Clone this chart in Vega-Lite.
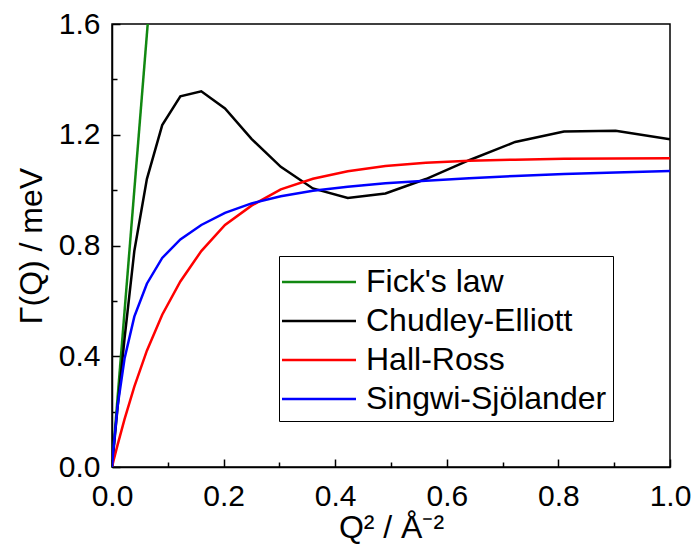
{
  "$schema": "https://vega.github.io/schema/vega-lite/v6.json",
  "width": 558,
  "height": 443,
  "autosize": {"type": "none"},
  "padding": {"left": 112, "top": 24, "right": 26, "bottom": 78},
  "background": "white",
  "config": {
    "view": {"stroke": "black", "strokeWidth": 1.5},
    "font": "Liberation Sans",
    "axis": {"grid": false, "domainColor": "black", "domainWidth": 1.5, "tickColor": "black", "tickWidth": 1.5, "labelColor": "black", "titleColor": "black", "labelFont": "Liberation Sans", "titleFont": "Liberation Sans", "titleFontWeight": "normal", "labelFlush": false, "labelOverlap": false}
  },
  "data": {
    "values": [
      {"m": "Fick's law", "x": 0, "y": 0},
      {"m": "Fick's law", "x": 0.064, "y": 1.6},
      {"m": "Chudley-Elliott", "x": 0, "y": 0},
      {"m": "Chudley-Elliott", "x": 0.0025, "y": 0.055},
      {"m": "Chudley-Elliott", "x": 0.01, "y": 0.215},
      {"m": "Chudley-Elliott", "x": 0.0225, "y": 0.465},
      {"m": "Chudley-Elliott", "x": 0.04, "y": 0.78},
      {"m": "Chudley-Elliott", "x": 0.0625, "y": 1.04},
      {"m": "Chudley-Elliott", "x": 0.09, "y": 1.235},
      {"m": "Chudley-Elliott", "x": 0.1225, "y": 1.339},
      {"m": "Chudley-Elliott", "x": 0.16, "y": 1.357},
      {"m": "Chudley-Elliott", "x": 0.2025, "y": 1.295},
      {"m": "Chudley-Elliott", "x": 0.25, "y": 1.185},
      {"m": "Chudley-Elliott", "x": 0.3025, "y": 1.084},
      {"m": "Chudley-Elliott", "x": 0.36, "y": 1.006},
      {"m": "Chudley-Elliott", "x": 0.4225, "y": 0.972},
      {"m": "Chudley-Elliott", "x": 0.49, "y": 0.988},
      {"m": "Chudley-Elliott", "x": 0.5625, "y": 1.04},
      {"m": "Chudley-Elliott", "x": 0.64, "y": 1.108},
      {"m": "Chudley-Elliott", "x": 0.7225, "y": 1.174},
      {"m": "Chudley-Elliott", "x": 0.81, "y": 1.212},
      {"m": "Chudley-Elliott", "x": 0.9025, "y": 1.214},
      {"m": "Chudley-Elliott", "x": 1.0, "y": 1.184},
      {"m": "Hall-Ross", "x": 0, "y": 0},
      {"m": "Hall-Ross", "x": 0.0025, "y": 0.021},
      {"m": "Hall-Ross", "x": 0.01, "y": 0.08},
      {"m": "Hall-Ross", "x": 0.0225, "y": 0.173},
      {"m": "Hall-Ross", "x": 0.04, "y": 0.29},
      {"m": "Hall-Ross", "x": 0.0625, "y": 0.42},
      {"m": "Hall-Ross", "x": 0.09, "y": 0.55},
      {"m": "Hall-Ross", "x": 0.1225, "y": 0.67},
      {"m": "Hall-Ross", "x": 0.16, "y": 0.78},
      {"m": "Hall-Ross", "x": 0.2025, "y": 0.874},
      {"m": "Hall-Ross", "x": 0.25, "y": 0.944},
      {"m": "Hall-Ross", "x": 0.3025, "y": 1.003},
      {"m": "Hall-Ross", "x": 0.36, "y": 1.041},
      {"m": "Hall-Ross", "x": 0.4225, "y": 1.068},
      {"m": "Hall-Ross", "x": 0.49, "y": 1.087},
      {"m": "Hall-Ross", "x": 0.5625, "y": 1.099},
      {"m": "Hall-Ross", "x": 0.64, "y": 1.106},
      {"m": "Hall-Ross", "x": 0.7225, "y": 1.11},
      {"m": "Hall-Ross", "x": 0.81, "y": 1.113},
      {"m": "Hall-Ross", "x": 0.9025, "y": 1.114},
      {"m": "Hall-Ross", "x": 1.0, "y": 1.115},
      {"m": "Singwi-Sjölander", "x": 0, "y": 0},
      {"m": "Singwi-Sjölander", "x": 0.0025, "y": 0.064},
      {"m": "Singwi-Sjölander", "x": 0.01, "y": 0.219},
      {"m": "Singwi-Sjölander", "x": 0.0225, "y": 0.392},
      {"m": "Singwi-Sjölander", "x": 0.04, "y": 0.543},
      {"m": "Singwi-Sjölander", "x": 0.0625, "y": 0.662},
      {"m": "Singwi-Sjölander", "x": 0.09, "y": 0.755},
      {"m": "Singwi-Sjölander", "x": 0.1225, "y": 0.822},
      {"m": "Singwi-Sjölander", "x": 0.16, "y": 0.874},
      {"m": "Singwi-Sjölander", "x": 0.2025, "y": 0.918},
      {"m": "Singwi-Sjölander", "x": 0.25, "y": 0.952},
      {"m": "Singwi-Sjölander", "x": 0.3025, "y": 0.978},
      {"m": "Singwi-Sjölander", "x": 0.36, "y": 0.998},
      {"m": "Singwi-Sjölander", "x": 0.4225, "y": 1.012},
      {"m": "Singwi-Sjölander", "x": 0.49, "y": 1.025},
      {"m": "Singwi-Sjölander", "x": 0.5625, "y": 1.034},
      {"m": "Singwi-Sjölander", "x": 0.64, "y": 1.043},
      {"m": "Singwi-Sjölander", "x": 0.7225, "y": 1.051},
      {"m": "Singwi-Sjölander", "x": 0.81, "y": 1.058},
      {"m": "Singwi-Sjölander", "x": 0.9025, "y": 1.064},
      {"m": "Singwi-Sjölander", "x": 1.0, "y": 1.069}
    ]
  },
  "layer": [
    {
      "mark": {"type": "line", "strokeWidth": 2.5, "clip": true},
      "encoding": {
        "x": {"field": "x", "type": "quantitative", "scale": {"domain": [0, 1], "nice": false, "zero": false},
          "axis": {"orient": "bottom", "values": [0, 0.2, 0.4, 0.6, 0.8, 1.0], "format": ".1f", "tickSize": -8, "labelFontSize": 30, "labelPadding": 22, "title": "Q² / Å⁻²", "titleFontSize": 32, "titlePadding": 1}},
        "y": {"field": "y", "type": "quantitative", "scale": {"domain": [0, 1.6], "nice": false, "zero": false},
          "axis": {"orient": "left", "values": [0, 0.4, 0.8, 1.2, 1.6], "format": ".1f", "tickSize": -8, "labelFontSize": 30, "labelPadding": 20, "title": "Γ(Q) / meV", "titleFontSize": 32, "titlePadding": 10}},
        "color": {"field": "m", "type": "nominal",
          "scale": {"domain": ["Fick's law", "Chudley-Elliott", "Hall-Ross", "Singwi-Sjölander"], "range": ["#118811", "#000000", "#ff0000", "#0000ff"]},
          "legend": {"orient": "none", "legendX": 167, "legendY": 232, "title": null, "symbolType": "M-2,0H2", "symbolSize": 1369, "symbolStrokeWidth": 2.5, "symbolOffset": 14, "labelOffset": 27, "labelFontSize": 32, "labelLimit": 400, "labelColor": "black", "labelFont": "Liberation Sans", "fillColor": "white", "strokeColor": "black", "padding": 6, "rowPadding": 3}},
        "order": {"field": "x", "type": "quantitative"}
      }
    },
    {
      "mark": {"type": "point", "opacity": 0},
      "encoding": {
        "x": {"field": "x", "type": "quantitative",
          "axis": {"orient": "bottom", "values": [0.1, 0.3, 0.5, 0.7, 0.9], "tickSize": -5, "labels": false, "domain": false, "title": null}},
        "y": {"field": "y", "type": "quantitative",
          "axis": {"orient": "left", "values": [0.2, 0.6, 1.0, 1.4], "tickSize": -5, "labels": false, "domain": false, "title": null}}
      }
    }
  ],
  "resolve": {"axis": {"x": "independent", "y": "independent"}}
}
